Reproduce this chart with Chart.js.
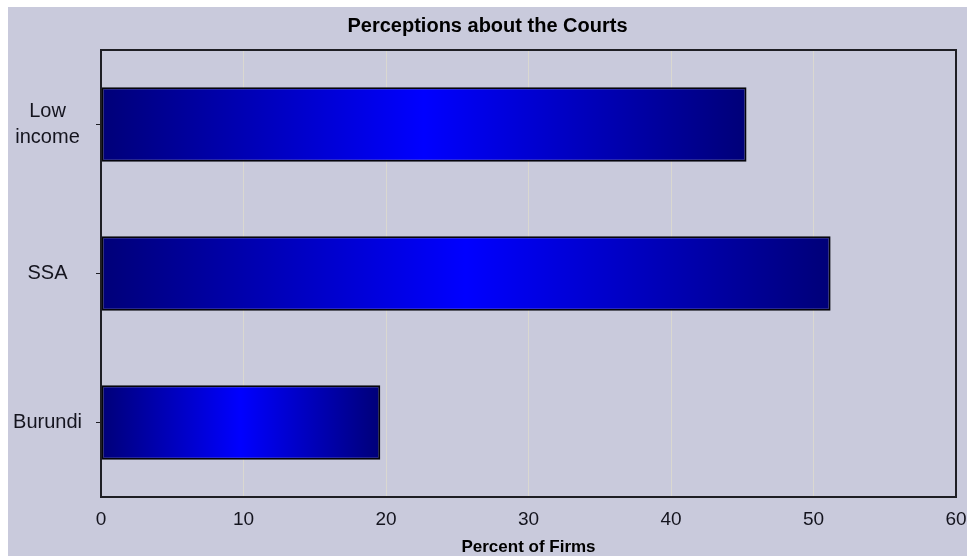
<!DOCTYPE html>
<html>
<head>
<meta charset="utf-8">
<script src="https://cdn.jsdelivr.net/npm/chart.js@4"></script>
<style>
  html, body { margin: 0; padding: 0; background: #ffffff; }
  #wrap { position: absolute; left: 8px; top: 7px; width: 959px; height: 549px; background: #c9cadc; }
</style>
</head>
<body>
<div id="wrap"><canvas id="myChart" width="959" height="549"></canvas></div>
<script>
  // values
  let categories = [["Low", "income"], "SSA", "Burundi"];
  let percentFirms = [45.3, 51.2, 19.6];
  let xTicks = [0, 10, 20, 30, 40, 50, 60];

  const ctx = document.getElementById('myChart');

  // navy -> bright blue -> navy across each bar
  function barGradient(context) {
    const chart = context.chart;
    const area = chart.chartArea;
    if (!area) return "#0000a0";
    const xs = chart.scales.x;
    const x0 = xs.getPixelForValue(0);
    const x1 = xs.getPixelForValue(context.raw);
    const g = chart.ctx.createLinearGradient(x0, 0, x1, 0);
    g.addColorStop(0, "#000078");
    g.addColorStop(0.5, "#0000ff");
    g.addColorStop(1, "#000078");
    return g;
  }

  // black frame round the plot area
  const frame = {
    id: 'frame',
    afterDatasetsDraw(chart) {
      const a = chart.chartArea;
      const c = chart.ctx;
      c.save();
      c.strokeStyle = "#1e1e24";
      c.lineWidth = 2;
      c.strokeRect(a.left, a.top, a.right - a.left, a.bottom - a.top);
      c.restore();
    }
  };

  let data = {
    labels: categories,
    datasets: [{
      data: percentFirms,
      backgroundColor: barGradient,
      borderColor: "#05050c",
      borderWidth: 2,
      borderSkipped: false,
      barPercentage: 0.5,
      categoryPercentage: 1
    }]
  };

  let configuration = {
    type: 'bar',
    data: data,
    plugins: [frame],
    options: {
      indexAxis: 'y',
      responsive: false,
      animation: false,
      layout: { padding: { left: 0, right: 0, top: 0, bottom: 0 } },
      plugins: {
        legend: { display: false },
        tooltip: { enabled: false },
        title: {
          display: true,
          text: "Perceptions about the Courts",
          color: "#000000",
          font: { family: "'Liberation Sans Narrow', 'Liberation Sans', Arial", size: 20, weight: 'bold' },
          padding: { top: 7, bottom: 12 }
        }
      },
      scales: {
        x: {
          min: 0,
          max: 60,
          afterBuildTicks(scale) {
            scale.ticks = xTicks.map(v => ({ value: v }));
          },
          afterFit(scale) {
            scale.height = 59;
            scale.paddingRight = 11;
          },
          grid: { color: "#dad8d0", lineWidth: 1, drawTicks: false },
          border: { display: true, color: "#1e1e24", width: 2 },
          ticks: {
            padding: 11,
            color: "#14141e",
            font: { family: "'Liberation Sans', Arial", size: 19 }
          },
          title: {
            display: true,
            text: "Percent of Firms",
            color: "#000000",
            padding: 0,
            font: { family: "'Liberation Sans', Arial", size: 17, weight: 'bold', lineHeight: 1 }
          }
        },
        y: {
          afterFit(scale) { scale.width = 93; },
          grid: { offset: false, drawOnChartArea: false, drawTicks: true, tickLength: 5, color: "#1e1e24" },
          border: { display: true, color: "#1e1e24", width: 2 },
          ticks: {
            crossAlign: 'center',
            padding: 14,
            color: "#14141e",
            font: { family: "'Liberation Sans', Arial", size: 20, lineHeight: 1.3 }
          }
        }
      }
    }
  };

  new Chart(ctx, configuration);
</script>
</body>
</html>
